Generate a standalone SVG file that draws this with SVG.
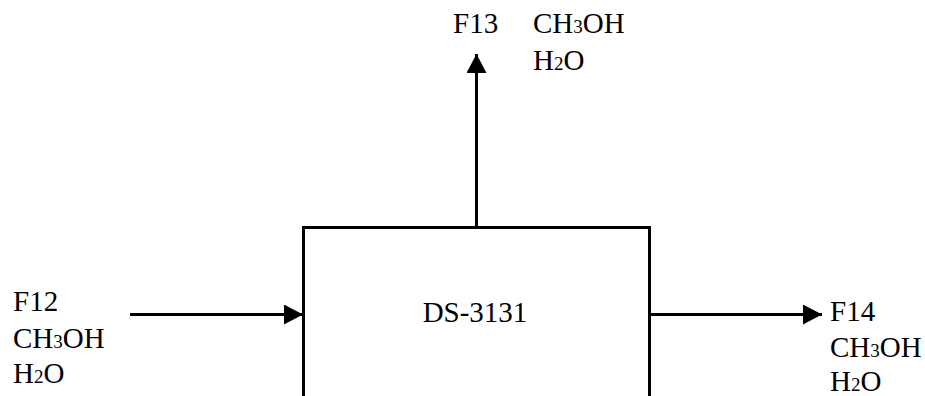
<svg xmlns="http://www.w3.org/2000/svg" width="925" height="396" viewBox="0 0 925 396">
<defs>
<marker id="ah" markerWidth="19" markerHeight="20" refX="19" refY="10" orient="auto" markerUnits="userSpaceOnUse">
<path d="M0,0 L19,10 L0,20 Z" fill="#000"/>
</marker>
<style>
text{font-family:"Liberation Serif","Times New Roman",serif;font-size:29px;fill:#000}
.s{font-size:19px}
.ln{stroke:#000;stroke-width:3;fill:none}
</style>
</defs>
<rect width="925" height="396" fill="#fff"/>
<g id="ds3131">
<path class="ln" d="M303.5,396 V227.5 H649.5 V396"/>
<text x="475" y="322" text-anchor="middle">DS-3131</text>
</g>
<g id="connectors">
<line class="ln" x1="130" y1="314.5" x2="303" y2="314.5" marker-end="url(#ah)"/>
<line class="ln" x1="649" y1="314.5" x2="822" y2="314.5" marker-end="url(#ah)"/>
<line class="ln" x1="476.5" y1="227" x2="476.5" y2="54" marker-end="url(#ah)"/>
</g>
<g id="f12">
<text x="13" y="311">F12</text>
<text x="13" y="348">CH<tspan class="s">3</tspan>OH</text>
<text x="13" y="383">H<tspan class="s">2</tspan>O</text>
</g>
<g id="f13">
<text x="453" y="33">F13</text>
<text x="533" y="33">CH<tspan class="s">3</tspan>OH</text>
<text x="533" y="70">H<tspan class="s">2</tspan>O</text>
</g>
<g id="f14">
<text x="830" y="321">F14</text>
<text x="830" y="357">CH<tspan class="s">3</tspan>OH</text>
<text x="830" y="391">H<tspan class="s">2</tspan>O</text>
</g>
</svg>
